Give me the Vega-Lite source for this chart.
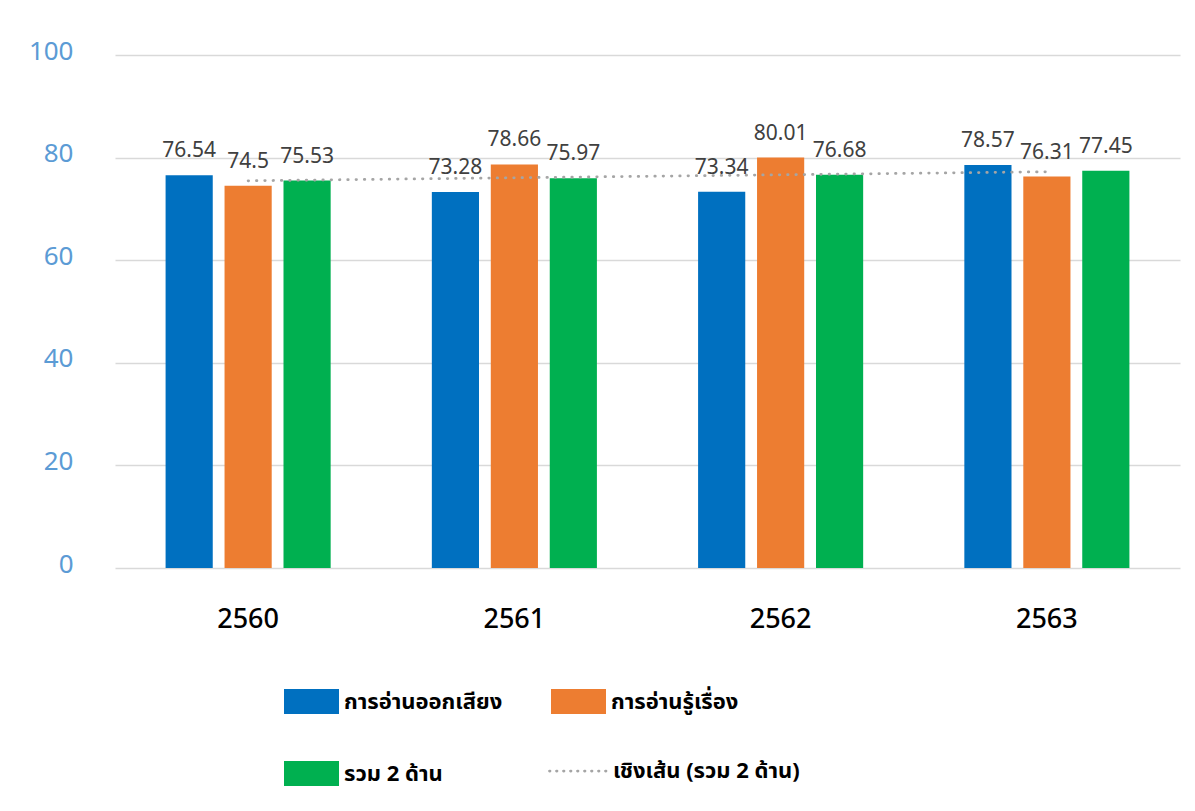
{
  "$schema": "https://vega.github.io/schema/vega-lite/v6.json",
  "width": 1065,
  "height": 513,
  "autosize": "none",
  "padding": {"left": 115, "top": 55, "right": 15, "bottom": 243},
  "background": "white",
  "config": {"view": {"stroke": null}, "font": "Noto Sans"},
  "datasets": {
    "bars": [
      {"year": "2560", "series": "การอ่านออกเสียง", "value": 76.54},
      {"year": "2560", "series": "การอ่านรู้เรื่อง", "value": 74.5},
      {"year": "2560", "series": "รวม 2 ด้าน", "value": 75.53},
      {"year": "2561", "series": "การอ่านออกเสียง", "value": 73.28},
      {"year": "2561", "series": "การอ่านรู้เรื่อง", "value": 78.66},
      {"year": "2561", "series": "รวม 2 ด้าน", "value": 75.97},
      {"year": "2562", "series": "การอ่านออกเสียง", "value": 73.34},
      {"year": "2562", "series": "การอ่านรู้เรื่อง", "value": 80.01},
      {"year": "2562", "series": "รวม 2 ด้าน", "value": 76.68},
      {"year": "2563", "series": "การอ่านออกเสียง", "value": 78.57},
      {"year": "2563", "series": "การอ่านรู้เรื่อง", "value": 76.31},
      {"year": "2563", "series": "รวม 2 ด้าน", "value": 77.45}
    ],
    "trend": [
      {"year": "2560", "trend": 75.48, "name": "เชิงเส้น (รวม 2 ด้าน)"},
      {"year": "2561", "trend": 76.07, "name": "เชิงเส้น (รวม 2 ด้าน)"},
      {"year": "2562", "trend": 76.65, "name": "เชิงเส้น (รวม 2 ด้าน)"},
      {"year": "2563", "trend": 77.24, "name": "เชิงเส้น (รวม 2 ด้าน)"}
    ]
  },
  "encoding": {
    "x": {
      "field": "year",
      "type": "nominal",
      "scale": {"paddingInner": 0.38, "paddingOuter": 0.19},
      "axis": {
        "title": null,
        "labelAngle": 0,
        "domain": false,
        "ticks": false,
        "labelPadding": 38,
        "labelFontSize": 27,
        "labelColor": "#000000",
        "labelFont": "Noto Sans",
        "labelFontWeight": 500
      }
    }
  },
  "layer": [
    {
      "data": {"name": "bars"},
      "mark": {"type": "bar"},
      "encoding": {
        "xOffset": {
          "field": "series",
          "type": "nominal",
          "sort": ["การอ่านออกเสียง", "การอ่านรู้เรื่อง", "รวม 2 ด้าน"],
          "scale": {"paddingInner": 0.2, "paddingOuter": 0}
        },
        "y": {
          "field": "value",
          "type": "quantitative",
          "scale": {"domain": [0, 100]},
          "axis": {
            "title": null,
            "values": [0, 20, 40, 60, 80, 100],
            "domain": false,
            "ticks": false,
            "gridColor": "#d9d9d9",
            "gridWidth": 1.5,
            "labelColor": "#5b9bd5",
            "labelFontSize": 26,
            "labelPadding": 42,
            "labelOffset": -4,
            "labelFont": "Noto Sans"
          }
        },
        "color": {
          "field": "series",
          "type": "nominal",
          "sort": ["การอ่านออกเสียง", "การอ่านรู้เรื่อง", "รวม 2 ด้าน"],
          "scale": {
            "domain": ["การอ่านออกเสียง", "การอ่านรู้เรื่อง", "รวม 2 ด้าน"],
            "range": ["#0070c0", "#ed7d31", "#00b050"]
          },
          "legend": {
            "title": null,
            "orient": "none",
            "legendX": 169,
            "legendY": 619,
            "columns": 2,
            "direction": "horizontal",
            "symbolType": "M-1,-0.4545H1V0.4545H-1Z",
            "symbolSize": 3025,
            "symbolStrokeWidth": 0,
            "labelFontSize": 22,
            "labelFontWeight": "bold",
            "labelColor": "#000000",
            "labelFont": "Noto Sans Thai, Noto Sans, sans-serif",
            "labelOffset": 5,
            "labelLimit": 400,
            "columnPadding": 48,
            "rowPadding": 32
          }
        }
      }
    },
    {
      "data": {"name": "bars"},
      "mark": {"type": "text", "baseline": "alphabetic", "dy": -18, "fontSize": 21, "color": "#404040"},
      "encoding": {
        "xOffset": {
          "field": "series",
          "type": "nominal",
          "sort": ["การอ่านออกเสียง", "การอ่านรู้เรื่อง", "รวม 2 ด้าน"],
          "scale": {"paddingInner": 0.2, "paddingOuter": 0}
        },
        "y": {"field": "value", "type": "quantitative"},
        "text": {"field": "value", "type": "quantitative", "format": "~f"}
      }
    },
    {
      "data": {"name": "trend"},
      "mark": {"type": "line", "strokeWidth": 2.75, "strokeDash": [0.5, 7.8], "strokeCap": "round"},
      "encoding": {
        "y": {"field": "trend", "type": "quantitative"},
        "stroke": {
          "field": "name",
          "type": "nominal",
          "scale": {"range": ["#a5a5a5"]},
          "legend": {
            "title": null,
            "orient": "none",
            "legendX": 433,
            "legendY": 686,
            "symbolType": "M-1,0H1",
            "symbolSize": 3249,
            "symbolStrokeWidth": 2.75,
            "symbolDash": [0.5, 6.5],
            "labelFontSize": 22,
            "labelFontWeight": "bold",
            "labelColor": "#000000",
            "labelFont": "Noto Sans Thai, Noto Sans, sans-serif",
            "labelOffset": 5,
            "labelLimit": 400,
            "encode": {"symbols": {"update": {"strokeCap": {"value": "round"}}}}
          }
        }
      }
    }
  ]
}
